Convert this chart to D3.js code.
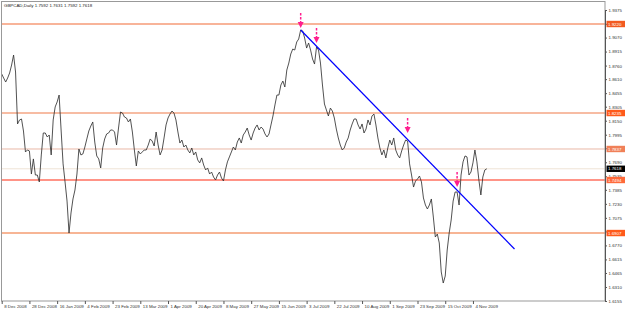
<!DOCTYPE html>
<html>
<head>
<meta charset="utf-8">
<script src="https://cdn.jsdelivr.net/npm/d3@7"></script>
<style>
  body { margin: 0; background: #fff; }
  svg { display: block; }
  text { font-family: "Liberation Sans", Arial, sans-serif; }
</style>
</head>
<body>
<div id="chart"></div>
<script>
// GBPCAD daily closes, one per bar starting 8 Dec 2008
const closes = [
  1.8667, 1.8622, 1.8578, 1.8622, 1.8678, 1.8766, 1.8877, 1.8689, 1.8114, 1.8158,
  1.8169, 1.8036, 1.7804, 1.7826, 1.7815, 1.7560, 1.7727, 1.7549, 1.7549, 1.7472,
  1.7771, 1.8014, 1.8014, 1.7970, 1.7992, 1.7771, 1.8158, 1.8302, 1.8357, 1.8434,
  1.8047, 1.7672, 1.7472, 1.7261, 1.6907, 1.7129, 1.7284, 1.7383, 1.7560, 1.7837,
  1.7771, 1.7782, 1.7859, 1.7948, 1.8036, 1.8091, 1.8136, 1.7914, 1.7760, 1.7727,
  1.7627, 1.7848, 1.7948, 1.8003, 1.8014, 1.8047, 1.8047, 1.8025, 1.7881, 1.8069,
  1.8246, 1.8235, 1.8191, 1.8180, 1.8136, 1.8169, 1.8025, 1.7826, 1.7649, 1.7815,
  1.7782, 1.7804, 1.7826, 1.7826, 1.7881, 1.7948, 1.7925, 1.7870, 1.8025, 1.7881,
  1.7771, 1.7826, 1.7959, 1.8103, 1.8180, 1.8224, 1.8257, 1.8235, 1.8158, 1.8025,
  1.7903, 1.7936, 1.7859, 1.7881, 1.7826, 1.7793, 1.7848, 1.7771, 1.7804, 1.7716,
  1.7683, 1.7738, 1.7660, 1.7605, 1.7627, 1.7560, 1.7582, 1.7527, 1.7494, 1.7549,
  1.7582, 1.7516, 1.7483, 1.7605, 1.7694, 1.7749, 1.7804, 1.7859, 1.7826, 1.7914,
  1.7959, 1.7903, 1.7992, 1.8025, 1.8069, 1.7992, 1.7936, 1.8014, 1.8069, 1.8103,
  1.8047, 1.8080, 1.8058, 1.8003, 1.7970, 1.8003, 1.8103, 1.8202, 1.8324, 1.8434,
  1.8434, 1.8545, 1.8589, 1.8523, 1.8711, 1.8788, 1.8888, 1.8943, 1.8932, 1.9021,
  1.9054, 1.9154, 1.9143, 1.9065, 1.8954, 1.9010, 1.8932, 1.8833, 1.8777, 1.8965,
  1.8932, 1.8788, 1.8545, 1.8335, 1.8268, 1.8202, 1.8290, 1.8257, 1.8180, 1.8058,
  1.7959, 1.7881, 1.7826, 1.7848, 1.7914, 1.7959, 1.8047, 1.8114, 1.8169, 1.8169,
  1.8103, 1.8058, 1.8114, 1.8014, 1.8058, 1.8158, 1.8103, 1.8202, 1.8224, 1.8103,
  1.7959, 1.7848, 1.7771, 1.7826, 1.7738, 1.7848, 1.7936, 1.7881, 1.7959, 1.7826,
  1.7771, 1.7738, 1.7815, 1.7881, 1.7936, 1.7925, 1.7672, 1.7549, 1.7416, 1.7483,
  1.7505, 1.7538, 1.7472, 1.7295, 1.7217, 1.7173, 1.7217, 1.7284, 1.7084, 1.6863,
  1.6896, 1.6797, 1.6476, 1.6354, 1.6431, 1.6719, 1.6907, 1.7051, 1.7261, 1.7361,
  1.7361, 1.7217, 1.7549, 1.7694, 1.7760, 1.7749, 1.7549, 1.7582, 1.7683, 1.7826,
  1.7694, 1.7494, 1.7328, 1.7527, 1.7605, 1.7618
];

const dateLabels = [
  "8 Dec 2008", "28 Dec 2008", "16 Jan 2009", "4 Feb 2009", "23 Feb 2009",
  "13 Mar 2009", "1 Apr 2009", "20 Apr 2009", "8 May 2009", "27 May 2009",
  "15 Jun 2009", "3 Jul 2009", "22 Jul 2009", "10 Aug 2009", "1 Sep 2009",
  "23 Sep 2009", "15 Oct 2009", "4 Nov 2009"
];
const barsPerLabel = 14;

const priceTicks = [
  "1.9375", "1.9222", "1.9070", "1.8915", "1.8760", "1.8610", "1.8455", "1.8305",
  "1.8150", "1.7995", "1.7845", "1.7690", "1.7535", "1.7385", "1.7230", "1.7075",
  "1.6925", "1.6770", "1.6615", "1.6465", "1.6310", "1.6155"
];

// horizontal levels drawn on the chart
const levels = [1.9220, 1.8235, 1.7837, 1.7494, 1.6907];
const levelLabels = ["1.9220", "1.8235", "1.7837", "1.7494", "1.6907"];

// downtrend line: [bar, price] at each end
const trendStart = [151, 1.9154];
const trendEnd = [259, 1.6730];

// arrow tips: [bar, price]
const arrows = [[151, 1.9176], [159, 1.9010], [205, 1.8014], [230, 1.7416]];

const title = "GBPCAD,Daily  1.7592 1.7631 1.7592 1.7618";

const width = 625, height = 310;
const plot = { left: 1.5, top: 1.5, right: 605, bottom: 301 };
const fs = 4.4;

const svg = d3.select("#chart")
  .append("svg")
  .attr("width", width)
  .attr("height", height);

const x = d3.scaleLinear()
  .domain([0, closes.length - 1])
  .range([1.7, 1.7 + (closes.length - 1) * 1.98]);

const y = d3.scaleLinear()
  .domain([1.6155, 1.9375])
  .range([301, 10]);

svg.append("clipPath").attr("id", "clip")
  .append("rect")
  .attr("x", plot.left).attr("y", plot.top)
  .attr("width", plot.right - plot.left).attr("height", plot.bottom - plot.top);

const g = svg.append("g").attr("clip-path", "url(#clip)");

// level lines
const levelStyle = [
  { c: "#f26a35", w: 1.1, box: "#f25a20" },
  { c: "#f5a685", w: 1.6, box: "#ff5a1a" },
  { c: "#e9b8a6", w: 1, box: "#f08058" },
  { c: "#ff2a10", w: 1.2, box: "#ff6a3a" },
  { c: "#f59c72", w: 1.6, box: "#ff5a1a" }
];

g.selectAll(".level")
  .data(levels)
  .join("line")
  .attr("class", "level")
  .attr("x1", plot.left).attr("x2", plot.right)
  .attr("y1", d => y(d)).attr("y2", d => y(d))
  .attr("stroke", (d, i) => levelStyle[i].c)
  .attr("stroke-width", (d, i) => levelStyle[i].w);

// bid line
const last = closes[closes.length - 1];
g.append("line")
  .attr("x1", plot.left).attr("x2", plot.right)
  .attr("y1", y(last)).attr("y2", y(last))
  .attr("stroke", "#efe3d6").attr("stroke-width", 1);

// price line
const line = d3.line()
  .x((d, i) => x(i))
  .y(d => y(d));

g.append("path")
  .datum(closes)
  .attr("fill", "none")
  .attr("stroke", "#333")
  .attr("stroke-width", 0.85)
  .attr("d", line);

// trend line
g.append("line")
  .attr("x1", x(trendStart[0])).attr("y1", y(trendStart[1]))
  .attr("x2", x(trendEnd[0])).attr("y2", y(trendEnd[1]))
  .attr("stroke", "#0000ff").attr("stroke-width", 1.2);

// arrows
const arr = g.selectAll(".arrow")
  .data(arrows)
  .join("g")
  .attr("class", "arrow")
  .attr("transform", d => `translate(${x(d[0])},${y(d[1])})`);

arr.append("line")
  .attr("x1", 0).attr("x2", 0).attr("y1", -15).attr("y2", -5)
  .attr("stroke", "#ff1f8f").attr("stroke-width", 1.5)
  .attr("stroke-dasharray", "2.5,1.5");

arr.append("path")
  .attr("d", "M-3,-6 L3,-6 L0,0 Z")
  .attr("fill", "#ff1f8f");

// frame
svg.append("rect")
  .attr("x", plot.left).attr("y", plot.top)
  .attr("width", plot.right - plot.left).attr("height", plot.bottom - plot.top)
  .attr("fill", "none").attr("stroke", "#999").attr("stroke-width", 1);

// right price axis
const yAxis = d3.axisRight(y)
  .tickValues(priceTicks.map(Number))
  .tickFormat((d, i) => priceTicks[i])
  .tickSize(2)
  .tickPadding(1.5);

svg.append("g")
  .attr("class", "axis y-axis")
  .attr("transform", `translate(${plot.right},0)`)
  .call(yAxis)
  .call(a => a.select(".domain").attr("stroke", "#555"))
  .call(a => a.selectAll(".tick line").attr("stroke", "#555"))
  .call(a => a.selectAll("text").attr("font-size", fs).attr("fill", "#333")
    .attr("font-family", "Liberation Sans, Arial, sans-serif"));

// bottom date axis
const xAxis = d3.axisBottom(x)
  .tickValues(dateLabels.map((d, i) => i * barsPerLabel))
  .tickFormat((d, i) => dateLabels[i])
  .tickSize(3)
  .tickSizeOuter(0);

svg.append("g")
  .attr("class", "axis x-axis")
  .attr("transform", `translate(0,${plot.bottom})`)
  .call(xAxis)
  .call(a => a.select(".domain").remove())
  .call(a => a.selectAll(".tick line").attr("stroke", "#555"))
  .call(a => a.selectAll("text")
    .attr("font-size", fs).attr("fill", "#333")
    .attr("font-family", "Liberation Sans, Arial, sans-serif")
    .attr("text-anchor", "start")
    .attr("x", 2).attr("y", 3.5).attr("dy", "0.71em"));

// level labels on the price axis
const lab = svg.selectAll(".lvl-label")
  .data(levels)
  .join("g")
  .attr("class", "lvl-label")
  .attr("transform", d => `translate(${plot.right + 1.5},${y(d)})`);

lab.append("rect")
  .attr("x", 0).attr("y", -3.2).attr("width", 18.5).attr("height", 6.4)
  .attr("fill", (d, i) => levelStyle[i].box);

lab.append("text")
  .attr("x", 1.5).attr("dy", "0.35em")
  .attr("font-size", fs).attr("fill", "#fff")
  .text((d, i) => levelLabels[i]);

// last price label
const bid = svg.append("g")
  .attr("transform", `translate(${plot.right + 1.5},${y(last)})`);
bid.append("rect")
  .attr("x", 0).attr("y", -3.2).attr("width", 18.5).attr("height", 6.4)
  .attr("fill", "#000");
bid.append("text")
  .attr("x", 1.5).attr("dy", "0.35em")
  .attr("font-size", fs).attr("fill", "#fff")
  .text(last.toFixed(4));

// title
svg.append("text")
  .attr("x", 4).attr("y", 7)
  .attr("font-size", fs).attr("fill", "#222")
  .text(title);
</script>
</body>
</html>
